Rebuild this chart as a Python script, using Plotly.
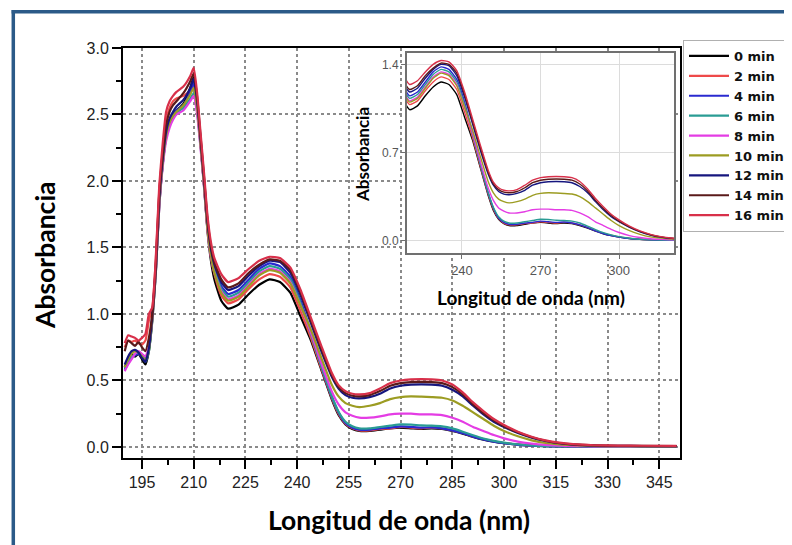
import plotly.graph_objects as go

# ---------------- data ----------------
wavelength = [190, 191, 192, 193, 194, 195, 196, 197, 198, 199, 200, 201, 202, 203, 204, 205,
              207, 209, 210, 211, 212, 213, 214, 215, 216, 218, 220, 223, 226, 229, 232, 235,
              238, 241, 244, 247, 250, 252, 254, 256, 258, 261, 264, 267, 270, 273, 276, 279,
              282, 285, 288, 291, 294, 297, 300, 304, 308, 312, 316, 320, 326, 333, 340, 350]

labels = ["0 min", "2 min", "4 min", "6 min", "8 min", "10 min", "12 min", "14 min", "16 min"]

abs_0 = [0.60, 0.66, 0.70, 0.68, 0.70, 0.66, 0.62, 0.72, 0.95, 1.30,
         1.80, 2.12, 2.33, 2.44, 2.50, 2.53,
         2.58, 2.70, 2.78, 2.58, 2.28, 1.96, 1.62, 1.40, 1.26,
         1.10, 1.04, 1.07, 1.15, 1.22, 1.26, 1.24, 1.16, 0.98,
         0.80, 0.58, 0.36, 0.24, 0.17, 0.135,
         0.12, 0.12, 0.13, 0.14, 0.145, 0.14, 0.135, 0.14, 0.135, 0.12, 0.10, 0.075,
         0.055, 0.04, 0.028, 0.017, 0.01, 0.007, 0.005, 0.004, 0.003, 0.003, 0.003, 0.003]
abs_2 = [0.75, 0.80, 0.79, 0.80, 0.78, 0.77, 0.80, 0.95, 1.05, 1.40,
         1.92, 2.22, 2.45, 2.55, 2.60, 2.62,
         2.64, 2.68, 2.73, 2.56, 2.28, 1.97, 1.64, 1.43, 1.30,
         1.14, 1.08, 1.11, 1.19, 1.26, 1.30, 1.28, 1.20, 1.02,
         0.82, 0.59, 0.37, 0.25, 0.175, 0.14,
         0.125, 0.125, 0.135, 0.14, 0.15, 0.145, 0.14, 0.145, 0.14, 0.125, 0.105, 0.08,
         0.06, 0.043, 0.03, 0.018, 0.011, 0.008, 0.006, 0.005, 0.004, 0.004, 0.004, 0.004]
abs_4 = [0.58, 0.63, 0.67, 0.69, 0.70, 0.68, 0.66, 0.74, 0.98, 1.32,
         1.84, 2.14, 2.35, 2.45, 2.50, 2.53,
         2.57, 2.67, 2.74, 2.57, 2.29, 1.99, 1.67, 1.47, 1.35,
         1.21, 1.15, 1.18, 1.26, 1.34, 1.38, 1.36, 1.28, 1.10,
         0.86, 0.61, 0.38, 0.26, 0.18, 0.145,
         0.13, 0.13, 0.14, 0.145, 0.155, 0.15, 0.145, 0.148, 0.14, 0.125, 0.103, 0.078,
         0.057, 0.04, 0.028, 0.016, 0.01, 0.006, 0.004, 0.003, 0.002, 0.002, 0.002, 0.002]
abs_6 = [0.59, 0.64, 0.67, 0.70, 0.71, 0.69, 0.64, 0.72, 0.96, 1.30,
         1.82, 2.12, 2.33, 2.43, 2.48, 2.51,
         2.55, 2.62, 2.66, 2.52, 2.26, 1.97, 1.65, 1.45, 1.33,
         1.19, 1.13, 1.16, 1.24, 1.32, 1.36, 1.34, 1.26, 1.08,
         0.85, 0.61, 0.385, 0.265, 0.19, 0.155,
         0.14, 0.14, 0.15, 0.16, 0.17, 0.168, 0.162, 0.16, 0.155, 0.14, 0.115, 0.088,
         0.064, 0.046, 0.032, 0.019, 0.011, 0.007, 0.005, 0.004, 0.003, 0.003, 0.003, 0.003]
abs_8 = [0.57, 0.62, 0.66, 0.70, 0.72, 0.70, 0.68, 0.75, 0.97, 1.31,
         1.80, 2.10, 2.30, 2.40, 2.46, 2.50,
         2.53, 2.60, 2.64, 2.50, 2.24, 1.95, 1.63, 1.43, 1.31,
         1.17, 1.11, 1.14, 1.22, 1.30, 1.34, 1.32, 1.24, 1.06,
         0.86, 0.63, 0.42, 0.32, 0.26, 0.235,
         0.22, 0.22, 0.23, 0.245, 0.25, 0.25, 0.245, 0.245, 0.24, 0.22, 0.19, 0.15,
         0.12, 0.09, 0.065, 0.04, 0.025, 0.015, 0.01, 0.007, 0.005, 0.004, 0.004, 0.004]
abs_10 = [0.60, 0.66, 0.70, 0.72, 0.71, 0.68, 0.65, 0.73, 0.97, 1.32,
          1.83, 2.13, 2.34, 2.44, 2.49, 2.52,
          2.57, 2.65, 2.70, 2.55, 2.27, 1.97, 1.64, 1.44, 1.31,
          1.16, 1.10, 1.13, 1.21, 1.29, 1.33, 1.31, 1.23, 1.06,
          0.88, 0.67, 0.47, 0.38, 0.33, 0.31,
          0.30, 0.31, 0.33, 0.36, 0.375, 0.38, 0.378, 0.375, 0.37, 0.35, 0.31, 0.26,
          0.21, 0.16, 0.12, 0.08, 0.05, 0.03, 0.02, 0.013, 0.008, 0.006, 0.005, 0.005]
abs_12 = [0.62, 0.68, 0.72, 0.73, 0.71, 0.67, 0.64, 0.74, 0.99, 1.34,
          1.86, 2.16, 2.37, 2.47, 2.52, 2.56,
          2.61, 2.70, 2.77, 2.60, 2.31, 2.01, 1.69, 1.49, 1.37,
          1.24, 1.18, 1.21, 1.29, 1.36, 1.40, 1.39, 1.31, 1.14,
          0.93, 0.72, 0.53, 0.44, 0.39, 0.37,
          0.365, 0.375, 0.40, 0.44, 0.46, 0.468, 0.47, 0.468, 0.46, 0.43, 0.38, 0.31,
          0.245, 0.19, 0.15, 0.105, 0.07, 0.045, 0.028, 0.018, 0.011, 0.008, 0.007, 0.006]
abs_14 = [0.72, 0.80, 0.78, 0.76, 0.79, 0.75, 0.72, 0.82, 1.00, 1.36,
          1.90, 2.20, 2.42, 2.52, 2.57, 2.60,
          2.66, 2.75, 2.81, 2.63, 2.33, 2.03, 1.71, 1.51, 1.39,
          1.26, 1.20, 1.23, 1.31, 1.37, 1.41, 1.40, 1.33, 1.16,
          0.95, 0.74, 0.545, 0.45, 0.405, 0.385,
          0.38, 0.39, 0.42, 0.46, 0.48, 0.488, 0.49, 0.488, 0.48, 0.45, 0.395, 0.32,
          0.255, 0.20, 0.155, 0.11, 0.073, 0.047, 0.03, 0.02, 0.012, 0.009, 0.008, 0.007]
abs_16 = [0.78, 0.84, 0.83, 0.82, 0.80, 0.82, 0.85, 1.00, 1.05, 1.42,
          1.96, 2.28, 2.52, 2.60, 2.64, 2.67,
          2.71, 2.79, 2.85, 2.66, 2.36, 2.06, 1.74, 1.54, 1.42,
          1.30, 1.24, 1.27, 1.34, 1.40, 1.43, 1.42, 1.35, 1.18,
          0.97, 0.76, 0.56, 0.465, 0.42, 0.40,
          0.395, 0.405, 0.44, 0.48, 0.50, 0.508, 0.51, 0.508, 0.50, 0.47, 0.41, 0.335,
          0.27, 0.21, 0.165, 0.115, 0.077, 0.05, 0.032, 0.021, 0.013, 0.01, 0.009, 0.008]

series = [abs_0, abs_2, abs_4, abs_6, abs_8, abs_10, abs_12, abs_14, abs_16]
colors = ["#000000", "#ee4a4a", "#2a2ad0", "#2a9c94", "#e43ce4",
          "#9c9c22", "#16167e", "#5a1a1a", "#d8304a"]

main_xticks = [195, 210, 225, 240, 255, 270, 285, 300, 315, 330, 345]
inset_xticks = [240, 270, 300]
inset_yticks = [0.0, 0.7, 1.4]

# ---------------- geometry helpers (screen pixel -> paper) ----------------
OFF = 8                                  # page body margin of the html page
W, H = 792 - OFF, 545 - OFF              # figure size so it fills the window
SL, SR, ST, SB = 123, 680, 48, 458       # main plot area in screen pixels
L, R, T, B = SL - OFF, SR - OFF, ST - OFF, SB - OFF


def px(x):
    return (x - OFF - L) / (R - L)


def py(y):
    return (B - (y - OFF)) / (B - T)


fig = go.Figure()

for vals, name, col in zip(series, labels, colors):
    fig.add_trace(go.Scatter(x=wavelength, y=vals, name=name, mode="lines",
                             line=dict(color=col, width=2.2, shape="spline", smoothing=0.5),
                             xaxis="x", yaxis="y"))
for vals, name, col in zip(series, labels, colors):
    fig.add_trace(go.Scatter(x=wavelength, y=vals, name=name, mode="lines", showlegend=False,
                             line=dict(color=col, width=1.4, shape="spline", smoothing=0.5),
                             xaxis="x2", yaxis="y2"))

tickfont = dict(family="Liberation Sans, Arial, sans-serif", size=16, color="#222")
fig.update_layout(
    width=W, height=H,
    margin=dict(l=L, r=W - R, t=T, b=H - B, autoexpand=False),
    paper_bgcolor="white", plot_bgcolor="white",
    showlegend=True,
    legend=dict(x=px(683), y=py(40), xanchor="left", yanchor="top",
                bordercolor="#b0b0b0", borderwidth=1, bgcolor="white",
                font=dict(family="DejaVu Sans, sans-serif", size=13,
                          color="#111", weight="bold"),
                itemwidth=40, tracegroupgap=0),
    xaxis=dict(domain=[0, 1], range=[189.5, 351], tickmode="array", tickvals=main_xticks,
               showline=True, mirror=True, linecolor="black", linewidth=2,
               ticks="outside", ticklen=9, tickwidth=2, tickcolor="black",
               minor=dict(dtick=7.5, tick0=195, ticks="outside", ticklen=5,
                          tickwidth=2, tickcolor="black", showgrid=False),
               showgrid=True, gridcolor="#8a8a8a", griddash="dot", gridwidth=1.5,
               zeroline=False, tickfont=tickfont),
    yaxis=dict(domain=[0, 1], range=[-0.083, 3.0], dtick=0.5, tick0=0, tickformat=".1f",
               showline=True, mirror=True, linecolor="black", linewidth=2,
               ticks="outside", ticklen=9, tickwidth=2, tickcolor="black",
               minor=dict(dtick=0.25, tick0=0, ticks="outside", ticklen=5,
                          tickwidth=2, tickcolor="black", showgrid=False),
               showgrid=True, gridcolor="#8a8a8a", griddash="dot", gridwidth=1.5,
               zeroline=False, tickfont=tickfont),
    xaxis2=dict(domain=[px(407), px(674)], anchor="y2", range=[219, 321],
                tickmode="array", tickvals=inset_xticks,
                showline=True, mirror=True, linecolor="#707070", linewidth=2,
                ticks="outside", ticklen=4, tickcolor="#707070",
                showgrid=True, gridcolor="#dcdcdc", gridwidth=1, zeroline=False,
                tickfont=dict(family="Liberation Sans, Arial, sans-serif", size=13, color="#555")),
    yaxis2=dict(domain=[py(253), py(53)], anchor="x2", range=[-0.098, 1.49],
                tickmode="array", tickvals=inset_yticks, tickformat=".1f",
                showline=True, mirror=True, linecolor="#707070", linewidth=2,
                ticks="outside", ticklen=4, tickcolor="#707070",
                showgrid=True, gridcolor="#dcdcdc", gridwidth=1, zeroline=False,
                tickfont=dict(family="Liberation Sans, Arial, sans-serif", size=12, color="#555")),
)

title_font = dict(family="Lato, sans-serif", size=26.5, color="black", weight="bold")
fig.add_annotation(text="Longitud de onda (nm)", xref="paper", yref="paper",
                   x=px(399), y=py(520), xanchor="center", yanchor="middle",
                   showarrow=False, font=title_font)
fig.add_annotation(text="Absorbancia", xref="paper", yref="paper",
                   x=px(45), y=py(255), xanchor="center", yanchor="middle",
                   textangle=-90, showarrow=False, font=title_font)
fig.add_annotation(text="Longitud de onda (nm)", xref="paper", yref="paper",
                   x=px(531), y=py(297), xanchor="center", yanchor="middle",
                   showarrow=False,
                   font=dict(family="Lato, sans-serif", size=19, color="black", weight="bold"))
fig.add_annotation(text="Absorbancia", xref="paper", yref="paper",
                   x=px(362), y=py(155), xanchor="center", yanchor="middle",
                   textangle=-90, showarrow=False,
                   font=dict(family="Lato, sans-serif", size=17, color="black", weight="bold"))

# blue frame (left and top edges)
frame_col = "#2b5a88"
fig.add_shape(type="line", xref="paper", yref="paper", x0=px(13.3), x1=px(13.3),
              y0=py(548), y1=py(9.9), line=dict(color=frame_col, width=3.5))
fig.add_shape(type="line", xref="paper", yref="paper", x0=px(11.6), x1=px(795),
              y0=py(11.7), y1=py(11.7), line=dict(color=frame_col, width=3.5))

fig.write_html("out.html")
